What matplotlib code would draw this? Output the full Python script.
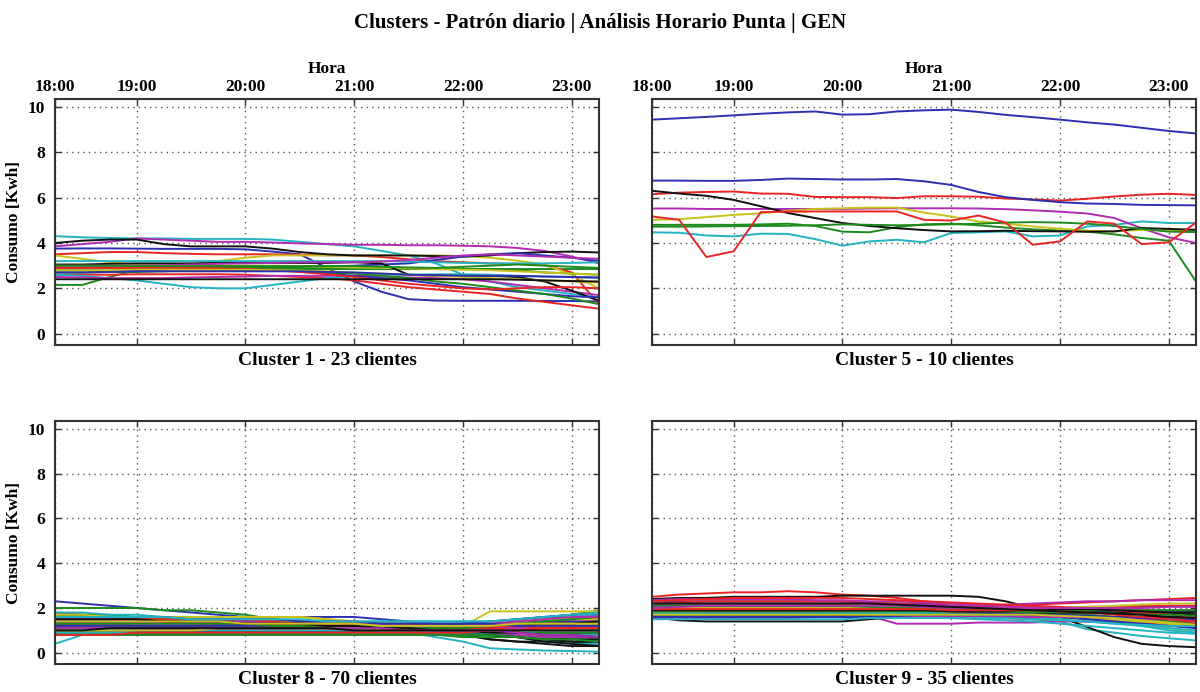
import matplotlib
matplotlib.use('Agg')
import matplotlib.pyplot as plt

# 15-min steps from the left edge (labelled 18:00) to 23:15
N_POINTS = 21
TICK_POS = [0, 3, 7, 11, 15, 19]
TICK_LABELS = ['18:00', '19:00', '20:00', '21:00', '22:00', '23:00']
Y_TICKS = [0, 2, 4, 6, 8, 10]

TITLE = 'Clusters - Patrón diario | Análisis Horario Punta | GEN'
PANEL_TITLES = ['Cluster 1 - 23 clientes', 'Cluster 5 - 10 clientes',
                'Cluster 8 - 70 clientes', 'Cluster 9 - 35 clientes']

# classic b g r c m y k cycle
CYCLE = ['#2e2eb0', '#1d8a1d', '#e82424', '#22b4c0', '#b02cb0', '#c9c21e', '#111111']

cluster1 = [
    [3.75, 3.76, 3.76, 3.75, 3.74, 3.74, 3.74, 3.72, 3.62, 3.50, 2.90, 2.30, 1.85, 1.52, 1.46, 1.45, 1.45, 1.45, 1.44, 1.44, 1.42],
    [2.15, 2.15, 2.50, 2.80, 2.82, 2.85, 2.85, 2.85, 2.85, 2.85, 2.85, 2.85, 2.85, 2.85, 2.85, 2.85, 2.85, 2.85, 2.85, 2.85, 2.85],
    [3.50, 3.55, 3.60, 3.60, 3.55, 3.52, 3.50, 3.50, 3.50, 3.48, 3.46, 3.45, 3.38, 3.28, 3.20, 3.15, 3.10, 3.08, 3.02, 2.70, 1.30],
    [4.30, 4.25, 4.22, 4.20, 4.20, 4.18, 4.18, 4.18, 4.15, 4.05, 3.95, 3.85, 3.65, 3.45, 3.10, 2.60, 2.30, 2.05, 1.90, 1.75, 1.60],
    [3.85, 3.95, 4.05, 4.20, 4.15, 4.10, 4.05, 4.05, 4.02, 3.98, 3.95, 3.92, 3.92, 3.90, 3.90, 3.88, 3.85, 3.78, 3.65, 3.40, 3.10],
    [3.45, 3.30, 3.15, 3.05, 3.00, 3.05, 3.20, 3.35, 3.45, 3.45, 3.45, 3.45, 3.45, 3.45, 3.45, 3.42, 3.35, 3.22, 3.05, 2.60, 2.00],
    [4.00, 4.10, 4.15, 4.15, 3.95, 3.85, 3.85, 3.85, 3.75, 3.60, 3.50, 3.45, 3.45, 3.45, 3.42, 3.40, 3.45, 3.55, 3.60, 3.62, 3.58],
    [2.95, 2.95, 2.95, 2.95, 2.95, 2.95, 2.95, 2.95, 2.95, 2.95, 2.95, 3.00, 3.05, 3.10, 3.25, 3.40, 3.50, 3.55, 3.45, 3.35, 3.20],
    [2.90, 2.90, 2.90, 2.90, 2.92, 2.92, 2.92, 2.92, 2.92, 2.92, 2.92, 2.92, 2.90, 2.88, 2.85, 2.85, 2.85, 2.80, 2.70, 2.65, 2.60],
    [2.60, 2.60, 2.60, 2.62, 2.62, 2.62, 2.62, 2.60, 2.55, 2.50, 2.45, 2.35, 2.20, 2.05, 1.95, 1.85, 1.75, 1.55, 1.40, 1.25, 1.10],
    [2.60, 2.55, 2.45, 2.35, 2.20, 2.05, 2.00, 2.00, 2.15, 2.30, 2.45, 2.55, 2.60, 2.60, 2.62, 2.62, 2.60, 2.55, 2.52, 2.50, 2.45],
    [2.50, 2.48, 2.45, 2.45, 2.45, 2.48, 2.50, 2.52, 2.55, 2.55, 2.55, 2.55, 2.52, 2.48, 2.45, 2.40, 2.30, 2.15, 2.00, 1.85, 1.70],
    [3.00, 3.00, 3.00, 3.00, 3.00, 3.00, 3.00, 3.00, 3.00, 2.98, 2.95, 2.92, 2.90, 2.88, 2.85, 2.82, 2.80, 2.75, 2.70, 2.65, 2.60],
    [3.05, 3.05, 3.08, 3.10, 3.10, 3.10, 3.12, 3.12, 3.12, 3.12, 3.12, 3.15, 3.10, 2.60, 2.55, 2.55, 2.55, 2.50, 2.30, 1.90, 1.45],
    [2.80, 2.80, 2.78, 2.80, 2.80, 2.80, 2.80, 2.80, 2.80, 2.75, 2.65, 2.55, 2.45, 2.35, 2.20, 2.05, 1.95, 1.85, 1.75, 1.65, 1.60],
    [2.70, 2.70, 2.72, 2.72, 2.75, 2.80, 2.80, 2.80, 2.80, 2.75, 2.70, 2.65, 2.55, 2.45, 2.30, 2.20, 2.05, 1.90, 1.75, 1.55, 1.30],
    [2.90, 2.90, 2.90, 2.90, 2.90, 2.90, 2.88, 2.85, 2.80, 2.72, 2.62, 2.50, 2.35, 2.20, 2.10, 2.00, 1.95, 2.00, 2.05, 2.05, 2.00],
    [3.20, 3.20, 3.20, 3.20, 3.20, 3.20, 3.20, 3.20, 3.20, 3.20, 3.20, 3.20, 3.20, 3.18, 3.15, 3.12, 3.10, 3.10, 3.10, 3.12, 3.15],
    [3.00, 3.00, 3.00, 3.00, 3.02, 3.05, 3.08, 3.10, 3.12, 3.15, 3.15, 3.15, 3.18, 3.25, 3.35, 3.45, 3.50, 3.45, 3.40, 3.35, 3.30],
    [2.80, 2.80, 2.80, 2.82, 2.82, 2.82, 2.82, 2.82, 2.80, 2.78, 2.75, 2.70, 2.65, 2.60, 2.55, 2.50, 2.45, 2.40, 2.35, 2.30, 2.25],
    [2.40, 2.40, 2.40, 2.40, 2.40, 2.40, 2.40, 2.40, 2.40, 2.40, 2.40, 2.40, 2.40, 2.40, 2.40, 2.40, 2.40, 2.38, 2.35, 2.32, 2.30],
    [2.70, 2.70, 2.72, 2.75, 2.75, 2.75, 2.75, 2.75, 2.75, 2.75, 2.72, 2.70, 2.65, 2.60, 2.58, 2.55, 2.55, 2.55, 2.52, 2.50, 2.48],
    [3.00, 3.00, 3.00, 2.98, 2.98, 2.98, 2.98, 2.98, 2.98, 2.98, 2.98, 2.98, 2.95, 2.92, 2.90, 2.95, 3.00, 3.05, 3.00, 2.95, 2.90],
]

cluster5 = [
    [9.44, 9.50, 9.56, 9.63, 9.70, 9.76, 9.80, 9.66, 9.68, 9.80, 9.85, 9.88, 9.78, 9.65, 9.55, 9.44, 9.32, 9.22, 9.08, 8.94, 8.83],
    [4.80, 4.80, 4.80, 4.80, 4.82, 4.85, 4.75, 4.50, 4.47, 4.70, 4.82, 4.85, 4.78, 4.68, 4.60, 4.55, 4.50, 4.38, 4.22, 4.10, 2.30],
    [6.15, 6.22, 6.25, 6.27, 6.18, 6.17, 6.03, 6.02, 6.02, 5.98, 6.06, 6.06, 6.04, 5.96, 5.92, 5.87, 5.95, 6.05, 6.13, 6.17, 6.12],
    [4.47, 4.45, 4.33, 4.29, 4.41, 4.40, 4.17, 3.88, 4.07, 4.14, 4.03, 4.44, 4.47, 4.51, 4.29, 4.33, 4.73, 4.80, 4.95, 4.88, 4.88],
    [5.52, 5.52, 5.50, 5.50, 5.50, 5.50, 5.50, 5.50, 5.52, 5.53, 5.53, 5.53, 5.52, 5.49, 5.44, 5.38, 5.30, 5.10, 4.65, 4.25, 4.00],
    [5.02, 5.05, 5.14, 5.24, 5.31, 5.42, 5.50, 5.53, 5.56, 5.56, 5.34, 5.17, 4.95, 4.85, 4.73, 4.63, 4.54, 4.51, 4.58, 4.55, 4.54],
    [6.30, 6.18, 6.08, 5.90, 5.62, 5.32, 5.10, 4.88, 4.75, 4.65, 4.57, 4.51, 4.52, 4.54, 4.52, 4.51, 4.50, 4.51, 4.66, 4.62, 4.58],
    [6.75, 6.75, 6.74, 6.74, 6.78, 6.84, 6.82, 6.80, 6.80, 6.82, 6.72, 6.56, 6.25, 6.02, 5.90, 5.80, 5.74, 5.72, 5.68, 5.67, 5.66],
    [4.72, 4.72, 4.73, 4.74, 4.75, 4.76, 4.78, 4.82, 4.80, 4.78, 4.80, 4.82, 4.85, 4.90, 4.92, 4.90, 4.85, 4.75, 4.62, 4.50, 4.48],
    [5.17, 5.02, 3.38, 3.63, 5.36, 5.38, 5.39, 5.39, 5.39, 5.39, 5.02, 4.99, 5.21, 4.90, 3.92, 4.07, 4.95, 4.85, 3.95, 4.03, 4.90],
]

cluster8 = [
    [2.3, 2.2, 2.1, 2.0, 1.9, 1.8, 1.7, 1.6, 1.6, 1.6, 1.6, 1.6, 1.5, 1.4, 1.3, 1.3, 1.3, 1.4, 1.4, 1.5, 1.5],
    [2.0, 2.0, 2.0, 2.0, 1.9, 1.9, 1.8, 1.7, 1.5, 1.4, 1.3, 1.2, 1.1, 1.0, 0.9, 0.9, 1.1, 1.3, 1.5, 1.7, 1.9],
    [1.8, 1.7, 1.6, 1.6, 1.6, 1.5, 1.5, 1.5, 1.4, 1.4, 1.4, 1.3, 1.2, 1.1, 1.1, 1.1, 1.2, 1.3, 1.3, 1.4, 1.4],
    [0.4, 0.8, 1.0, 1.1, 1.1, 1.1, 1.1, 1.1, 1.1, 1.1, 1.1, 1.0, 1.0, 1.0, 1.0, 1.0, 1.0, 0.9, 0.9, 0.9, 0.9],
    [1.1, 1.1, 1.1, 1.1, 1.1, 1.1, 1.0, 1.0, 1.0, 1.0, 1.0, 1.0, 1.0, 1.0, 1.0, 1.1, 1.2, 1.3, 1.4, 1.5, 1.6],
    [0.8, 0.8, 0.8, 0.8, 0.8, 0.8, 0.8, 0.8, 0.8, 0.8, 0.8, 0.8, 0.8, 0.8, 0.85, 1.2, 1.85, 1.85, 1.85, 1.85, 1.85],
    [1.6, 1.5, 1.4, 1.3, 1.3, 1.3, 1.2, 1.2, 1.2, 1.1, 1.1, 1.0, 1.0, 0.9, 0.9, 0.8, 0.6, 0.5, 0.4, 0.3, 0.3],
    [1.0, 1.0, 1.0, 1.1, 1.1, 1.1, 1.1, 1.1, 1.1, 1.0, 1.0, 1.0, 1.0, 1.0, 1.0, 1.1, 1.1, 1.2, 1.2, 1.2, 1.2],
    [1.4, 1.4, 1.4, 1.3, 1.3, 1.3, 1.2, 1.2, 1.2, 1.1, 1.1, 1.0, 1.0, 0.9, 0.9, 0.9, 0.8, 0.8, 0.7, 0.7, 0.7],
    [1.2, 1.2, 1.2, 1.2, 1.2, 1.2, 1.2, 1.2, 1.2, 1.2, 1.1, 1.1, 1.1, 1.1, 1.1, 1.2, 1.2, 1.2, 1.3, 1.3, 1.3],
    [1.5, 1.5, 1.5, 1.5, 1.4, 1.4, 1.3, 1.3, 1.2, 1.2, 1.1, 1.1, 1.0, 0.9, 0.7, 0.5, 0.2, 0.15, 0.1, 0.08, 0.05],
    [0.9, 0.9, 0.9, 0.9, 0.9, 0.9, 0.9, 0.9, 0.9, 0.9, 0.9, 0.9, 0.9, 0.9, 0.9, 0.9, 0.9, 0.9, 0.9, 0.9, 0.9],
    [1.3, 1.3, 1.4, 1.4, 1.5, 1.5, 1.6, 1.6, 1.6, 1.6, 1.5, 1.4, 1.3, 1.2, 1.1, 1.0, 1.0, 0.9, 0.9, 0.9, 0.9],
    [1.1, 1.1, 1.1, 1.1, 1.1, 1.1, 1.1, 1.1, 1.0, 1.0, 1.0, 1.0, 0.9, 0.9, 0.9, 0.8, 0.6, 0.5, 0.5, 0.5, 0.5],
    [1.7, 1.7, 1.6, 1.6, 1.5, 1.5, 1.5, 1.4, 1.4, 1.4, 1.3, 1.3, 1.2, 1.2, 1.2, 1.2, 1.2, 1.3, 1.4, 1.5, 1.6],
    [1.0, 1.0, 1.0, 1.0, 1.0, 1.0, 1.0, 1.0, 1.0, 1.0, 1.0, 0.9, 0.9, 0.9, 0.8, 0.8, 0.8, 0.8, 0.8, 0.8, 0.8],
    [0.9, 0.9, 0.9, 0.9, 0.9, 1.0, 1.0, 1.0, 1.0, 1.0, 1.0, 1.0, 1.0, 1.0, 1.0, 1.1, 1.1, 1.1, 1.0, 1.0, 1.0],
    [1.3, 1.3, 1.3, 1.3, 1.3, 1.3, 1.4, 1.4, 1.4, 1.4, 1.4, 1.4, 1.4, 1.4, 1.4, 1.4, 1.4, 1.5, 1.6, 1.7, 1.8],
    [1.4, 1.4, 1.4, 1.4, 1.3, 1.3, 1.3, 1.3, 1.2, 1.2, 1.2, 1.2, 1.1, 1.1, 1.1, 1.1, 1.1, 1.1, 1.1, 1.0, 1.0],
    [1.0, 1.0, 1.0, 1.0, 1.0, 1.0, 1.0, 1.0, 1.0, 1.0, 1.0, 1.0, 1.0, 1.0, 1.0, 1.0, 1.0, 0.9, 0.8, 0.7, 0.6],
    [0.9, 0.9, 1.0, 1.0, 1.0, 1.0, 1.0, 1.0, 1.0, 1.0, 1.0, 1.0, 1.0, 1.0, 1.0, 1.0, 1.1, 1.1, 1.2, 1.2, 1.3],
    [1.3, 1.3, 1.3, 1.3, 1.3, 1.3, 1.3, 1.3, 1.3, 1.3, 1.3, 1.2, 1.2, 1.2, 1.1, 1.1, 1.0, 1.0, 1.0, 1.0, 1.0],
    [1.7, 1.7, 1.7, 1.6, 1.6, 1.6, 1.5, 1.5, 1.4, 1.3, 1.2, 1.1, 1.0, 0.9, 0.8, 0.7, 0.7, 0.7, 0.6, 0.6, 0.6],
    [1.4, 1.4, 1.4, 1.4, 1.4, 1.4, 1.4, 1.4, 1.3, 1.3, 1.3, 1.2, 1.2, 1.2, 1.2, 1.2, 1.3, 1.3, 1.3, 1.3, 1.3],
    [1.1, 1.1, 1.1, 1.1, 1.1, 1.1, 1.1, 1.1, 1.1, 1.1, 1.1, 1.1, 1.1, 1.1, 1.1, 1.0, 0.9, 0.8, 0.7, 0.6, 0.6],
    [1.2, 1.2, 1.2, 1.2, 1.2, 1.2, 1.2, 1.1, 1.1, 1.1, 1.1, 1.1, 1.1, 1.1, 1.1, 1.1, 1.2, 1.2, 1.2, 1.2, 1.2],
    [1.1, 1.1, 1.1, 1.2, 1.2, 1.2, 1.2, 1.2, 1.2, 1.2, 1.2, 1.2, 1.1, 1.1, 1.1, 1.1, 1.1, 1.1, 1.1, 1.1, 1.1],
    [1.3, 1.3, 1.3, 1.2, 1.2, 1.2, 1.2, 1.1, 1.1, 1.1, 1.1, 1.0, 1.0, 1.0, 1.0, 1.0, 0.9, 0.8, 0.7, 0.6, 0.6],
    [0.9, 0.9, 0.9, 0.9, 0.9, 0.9, 0.9, 0.9, 0.9, 0.9, 0.9, 0.9, 0.9, 0.9, 0.9, 0.9, 0.9, 0.9, 0.9, 0.8, 0.8],
    [1.2, 1.2, 1.2, 1.2, 1.2, 1.2, 1.2, 1.1, 1.1, 1.1, 1.1, 1.1, 1.1, 1.0, 1.0, 1.0, 1.0, 1.0, 1.0, 1.0, 1.0],
    [1.6, 1.6, 1.6, 1.5, 1.5, 1.5, 1.4, 1.4, 1.4, 1.3, 1.3, 1.3, 1.2, 1.2, 1.2, 1.1, 1.1, 1.0, 1.0, 1.0, 1.0],
    [1.8, 1.8, 1.7, 1.7, 1.6, 1.6, 1.6, 1.5, 1.5, 1.4, 1.4, 1.3, 1.2, 1.1, 1.0, 0.9, 0.8, 0.7, 0.7, 0.7, 0.7],
    [1.0, 1.0, 1.0, 1.0, 1.0, 1.0, 1.0, 1.0, 1.0, 1.0, 1.0, 1.0, 1.0, 1.0, 1.0, 1.0, 1.0, 1.0, 1.1, 1.1, 1.1],
    [0.9, 0.9, 0.9, 0.9, 0.9, 0.9, 0.9, 0.9, 0.9, 0.9, 0.9, 0.9, 0.9, 0.9, 0.9, 0.9, 0.9, 0.8, 0.8, 0.8, 0.8],
    [1.0, 1.0, 1.0, 1.0, 1.0, 1.0, 1.0, 1.0, 1.0, 1.0, 0.9, 0.9, 0.9, 0.9, 0.9, 0.9, 0.8, 0.7, 0.6, 0.5, 0.4],
    [1.5, 1.5, 1.5, 1.5, 1.4, 1.4, 1.4, 1.3, 1.3, 1.3, 1.3, 1.2, 1.2, 1.2, 1.2, 1.3, 1.3, 1.3, 1.4, 1.4, 1.4],
    [0.9, 0.9, 0.9, 0.9, 0.9, 0.9, 0.9, 0.9, 0.9, 0.9, 0.9, 0.9, 0.9, 0.9, 0.9, 0.9, 0.9, 1.0, 1.0, 1.0, 1.0],
    [1.0, 1.0, 1.0, 1.0, 1.0, 1.0, 1.0, 1.0, 1.0, 1.0, 1.0, 1.0, 1.0, 1.0, 1.0, 1.0, 0.9, 0.9, 0.9, 0.8, 0.8],
    [1.2, 1.2, 1.2, 1.2, 1.2, 1.2, 1.2, 1.2, 1.2, 1.2, 1.2, 1.2, 1.3, 1.3, 1.3, 1.3, 1.3, 1.3, 1.3, 1.3, 1.3],
    [1.6, 1.6, 1.5, 1.5, 1.5, 1.5, 1.4, 1.4, 1.4, 1.4, 1.3, 1.3, 1.3, 1.3, 1.3, 1.3, 1.3, 1.3, 1.3, 1.2, 1.2],
    [1.5, 1.5, 1.5, 1.5, 1.5, 1.5, 1.4, 1.4, 1.4, 1.4, 1.4, 1.3, 1.3, 1.2, 1.2, 1.1, 1.1, 1.1, 1.0, 1.0, 1.0],
    [1.2, 1.2, 1.2, 1.2, 1.2, 1.2, 1.2, 1.2, 1.2, 1.2, 1.2, 1.2, 1.2, 1.2, 1.2, 1.2, 1.1, 1.1, 1.1, 1.1, 1.1],
    [1.1, 1.1, 1.1, 1.1, 1.1, 1.1, 1.1, 1.1, 1.1, 1.1, 1.1, 1.1, 1.1, 1.1, 1.1, 1.1, 1.1, 1.0, 1.0, 0.9, 0.9],
    [1.5, 1.5, 1.5, 1.5, 1.5, 1.4, 1.4, 1.4, 1.3, 1.3, 1.3, 1.2, 1.2, 1.2, 1.2, 1.2, 1.2, 1.2, 1.2, 1.2, 1.2],
    [1.1, 1.1, 1.1, 1.1, 1.1, 1.1, 1.1, 1.1, 1.1, 1.1, 1.1, 1.0, 1.0, 1.0, 1.0, 1.0, 1.0, 1.0, 1.0, 1.1, 1.1],
    [1.4, 1.4, 1.4, 1.3, 1.3, 1.3, 1.3, 1.3, 1.2, 1.2, 1.2, 1.2, 1.1, 1.1, 1.1, 1.0, 1.0, 0.9, 0.9, 0.8, 0.8],
    [0.8, 0.8, 0.8, 0.8, 0.8, 0.8, 0.8, 0.8, 0.8, 0.8, 0.8, 0.8, 0.8, 0.8, 0.8, 0.8, 0.8, 0.8, 0.7, 0.7, 0.7],
    [1.2, 1.2, 1.2, 1.2, 1.2, 1.2, 1.2, 1.2, 1.2, 1.1, 1.1, 1.1, 1.1, 1.1, 1.1, 1.2, 1.3, 1.4, 1.5, 1.5, 1.5],
    [1.4, 1.4, 1.4, 1.4, 1.4, 1.3, 1.3, 1.3, 1.3, 1.2, 1.2, 1.2, 1.1, 1.1, 1.1, 1.1, 1.2, 1.2, 1.3, 1.3, 1.4],
    [1.2, 1.2, 1.2, 1.2, 1.2, 1.2, 1.2, 1.2, 1.2, 1.2, 1.2, 1.2, 1.2, 1.2, 1.2, 1.3, 1.4, 1.5, 1.6, 1.7, 1.7],
    [1.1, 1.1, 1.1, 1.1, 1.1, 1.1, 1.1, 1.1, 1.1, 1.1, 1.1, 1.1, 1.0, 1.0, 1.0, 1.0, 1.0, 1.0, 0.9, 0.9, 0.9],
    [1.3, 1.3, 1.3, 1.3, 1.3, 1.3, 1.3, 1.3, 1.3, 1.2, 1.2, 1.2, 1.2, 1.1, 1.1, 1.1, 1.1, 1.1, 1.2, 1.2, 1.2],
    [1.0, 1.0, 1.0, 1.0, 1.0, 1.0, 1.0, 1.0, 1.0, 1.0, 1.0, 1.0, 1.0, 1.0, 1.0, 0.9, 0.8, 0.7, 0.5, 0.4, 0.4],
    [1.3, 1.3, 1.3, 1.3, 1.3, 1.3, 1.3, 1.3, 1.3, 1.2, 1.2, 1.2, 1.2, 1.2, 1.2, 1.2, 1.2, 1.1, 1.1, 1.1, 1.1],
    [1.7, 1.7, 1.6, 1.6, 1.6, 1.6, 1.6, 1.6, 1.6, 1.6, 1.5, 1.4, 1.3, 1.2, 1.2, 1.2, 1.2, 1.2, 1.2, 1.2, 1.2],
    [0.8, 0.8, 0.8, 0.9, 0.9, 0.9, 0.9, 0.9, 0.9, 0.9, 0.9, 0.9, 0.9, 0.9, 0.9, 0.9, 0.8, 0.7, 0.5, 0.4, 0.3],
    [1.4, 1.4, 1.4, 1.4, 1.4, 1.4, 1.3, 1.3, 1.3, 1.3, 1.2, 1.2, 1.2, 1.1, 1.1, 1.0, 1.0, 1.0, 1.0, 1.0, 1.0],
    [1.3, 1.3, 1.3, 1.3, 1.3, 1.3, 1.3, 1.3, 1.2, 1.2, 1.2, 1.2, 1.2, 1.1, 1.1, 1.1, 1.2, 1.3, 1.4, 1.5, 1.6],
    [1.5, 1.5, 1.5, 1.5, 1.5, 1.4, 1.4, 1.4, 1.4, 1.3, 1.3, 1.3, 1.3, 1.3, 1.2, 1.2, 1.2, 1.2, 1.1, 1.1, 1.1],
    [0.9, 0.9, 0.9, 0.9, 0.9, 0.9, 0.9, 0.9, 0.9, 0.9, 0.9, 0.9, 0.9, 0.9, 0.9, 0.9, 0.9, 0.9, 1.0, 1.0, 1.0],
    [1.5, 1.5, 1.5, 1.4, 1.4, 1.4, 1.4, 1.4, 1.3, 1.3, 1.3, 1.3, 1.3, 1.2, 1.2, 1.2, 1.3, 1.4, 1.5, 1.6, 1.6],
    [1.0, 1.0, 1.0, 1.0, 1.0, 1.0, 1.1, 1.1, 1.1, 1.1, 1.1, 1.1, 1.0, 1.0, 1.0, 1.0, 1.0, 1.0, 1.0, 1.0, 1.0],
    [1.5, 1.5, 1.5, 1.5, 1.4, 1.4, 1.4, 1.3, 1.3, 1.3, 1.2, 1.2, 1.1, 1.1, 1.0, 1.0, 0.9, 0.9, 0.8, 0.8, 0.7],
    [1.6, 1.6, 1.6, 1.6, 1.6, 1.5, 1.5, 1.5, 1.5, 1.4, 1.4, 1.4, 1.3, 1.3, 1.3, 1.3, 1.3, 1.2, 1.2, 1.2, 1.2],
    [0.8, 0.8, 0.8, 0.8, 0.8, 0.8, 0.8, 0.8, 0.8, 0.8, 0.8, 0.8, 0.8, 0.8, 0.8, 0.8, 0.8, 0.7, 0.6, 0.6, 0.5],
    [0.8, 0.8, 0.8, 0.9, 0.9, 0.9, 0.9, 0.9, 0.9, 0.9, 0.9, 0.9, 0.9, 0.9, 0.9, 0.9, 1.0, 1.0, 1.1, 1.1, 1.1],
    [1.6, 1.6, 1.6, 1.6, 1.6, 1.5, 1.5, 1.5, 1.5, 1.5, 1.4, 1.4, 1.4, 1.4, 1.4, 1.4, 1.4, 1.5, 1.6, 1.7, 1.75],
    [1.1, 1.1, 1.1, 1.1, 1.1, 1.1, 1.1, 1.1, 1.1, 1.1, 1.1, 1.1, 1.1, 1.0, 1.0, 1.0, 1.0, 0.9, 0.8, 0.8, 0.7],
    [1.4, 1.4, 1.4, 1.4, 1.4, 1.4, 1.4, 1.3, 1.3, 1.3, 1.3, 1.3, 1.2, 1.2, 1.2, 1.2, 1.2, 1.3, 1.3, 1.3, 1.3],
    [1.0, 1.0, 1.1, 1.1, 1.1, 1.1, 1.1, 1.1, 1.1, 1.1, 1.1, 1.0, 1.0, 1.0, 1.0, 1.0, 1.0, 1.0, 1.0, 1.0, 1.0],
]

cluster9 = [
    [2.3, 2.3, 2.3, 2.3, 2.3, 2.3, 2.3, 2.3, 2.2, 2.2, 2.2, 2.1, 2.1, 2.0, 2.0, 1.9, 1.9, 1.8, 1.8, 1.8, 1.8],
    [1.5, 1.7, 1.8, 1.8, 1.8, 1.8, 1.8, 1.8, 1.8, 1.8, 1.8, 1.8, 1.8, 1.8, 1.7, 1.7, 1.7, 1.6, 1.6, 1.6, 1.6],
    [2.5, 2.6, 2.65, 2.7, 2.7, 2.75, 2.7, 2.6, 2.55, 2.45, 2.3, 2.2, 2.15, 2.1, 2.15, 2.2, 2.25, 2.3, 2.35, 2.4, 2.45],
    [1.9, 1.9, 1.9, 1.9, 1.9, 1.9, 1.85, 1.85, 1.8, 1.8, 1.8, 1.75, 1.7, 1.65, 1.5, 1.4, 1.05, 0.9, 0.75, 0.65, 0.55],
    [1.8, 1.8, 1.8, 1.8, 1.8, 1.8, 1.75, 1.7, 1.65, 1.3, 1.3, 1.3, 1.35, 1.35, 1.35, 1.4, 1.4, 1.4, 1.4, 1.4, 1.4],
    [2.1, 2.2, 2.2, 2.2, 2.2, 2.2, 2.2, 2.15, 2.1, 2.05, 2.0, 2.0, 1.95, 1.9, 1.8, 1.7, 1.6, 1.5, 1.3, 1.1, 0.9],
    [2.4, 2.45, 2.45, 2.5, 2.5, 2.5, 2.5, 2.55, 2.55, 2.55, 2.55, 2.55, 2.5, 2.3, 2.0, 1.6, 1.15, 0.7, 0.4, 0.3, 0.25],
    [2.0, 2.0, 2.0, 2.0, 2.0, 2.0, 2.0, 2.0, 2.0, 2.0, 1.95, 1.9, 1.9, 1.9, 1.9, 1.95, 2.0, 2.05, 2.05, 2.1, 2.1],
    [1.7, 1.7, 1.7, 1.7, 1.7, 1.7, 1.7, 1.7, 1.75, 1.75, 1.75, 1.75, 1.7, 1.7, 1.7, 1.65, 1.6, 1.5, 1.4, 1.3, 1.2],
    [2.2, 2.25, 2.3, 2.3, 2.3, 2.3, 2.3, 2.3, 2.25, 2.2, 2.15, 2.1, 2.05, 2.0, 2.0, 2.0, 2.05, 2.05, 2.1, 2.1, 2.1],
    [1.65, 1.65, 1.65, 1.65, 1.65, 1.65, 1.65, 1.65, 1.65, 1.6, 1.6, 1.55, 1.5, 1.45, 1.4, 1.3, 1.2, 1.1, 1.0, 0.9, 0.85],
    [2.2, 2.2, 2.2, 2.2, 2.2, 2.2, 2.2, 2.2, 2.2, 2.15, 2.15, 2.1, 2.1, 2.15, 2.2, 2.25, 2.3, 2.3, 2.35, 2.35, 2.35],
    [1.8, 1.8, 1.85, 1.85, 1.85, 1.85, 1.85, 1.85, 1.85, 1.85, 1.85, 1.8, 1.8, 1.75, 1.7, 1.6, 1.5, 1.45, 1.4, 1.3, 1.2],
    [1.6, 1.45, 1.4, 1.4, 1.4, 1.4, 1.4, 1.4, 1.5, 1.6, 1.6, 1.6, 1.6, 1.6, 1.6, 1.6, 1.6, 1.6, 1.6, 1.6, 1.6],
    [1.75, 1.75, 1.75, 1.75, 1.75, 1.75, 1.75, 1.75, 1.75, 1.7, 1.7, 1.7, 1.7, 1.7, 1.75, 1.8, 1.8, 1.8, 1.8, 1.85, 1.85],
    [1.9, 1.95, 2.0, 2.0, 2.0, 2.0, 2.0, 2.0, 2.0, 1.95, 1.95, 1.9, 1.9, 1.85, 1.8, 1.75, 1.7, 1.6, 1.5, 1.4, 1.3],
    [1.6, 1.6, 1.6, 1.6, 1.6, 1.6, 1.6, 1.65, 1.65, 1.65, 1.65, 1.65, 1.6, 1.55, 1.5, 1.45, 1.4, 1.35, 1.3, 1.3, 1.3],
    [2.0, 2.0, 2.0, 2.0, 2.0, 2.0, 2.0, 1.95, 1.9, 1.85, 1.8, 1.75, 1.75, 1.7, 1.65, 1.6, 1.5, 1.4, 1.2, 1.0, 0.9],
    [2.35, 2.4, 2.4, 2.4, 2.4, 2.4, 2.35, 2.35, 2.3, 2.3, 2.25, 2.2, 2.15, 2.1, 2.05, 2.0, 1.95, 1.95, 1.9, 1.9, 1.9],
    [1.6, 1.6, 1.6, 1.6, 1.6, 1.6, 1.6, 1.6, 1.6, 1.6, 1.65, 1.65, 1.7, 1.7, 1.7, 1.7, 1.6, 1.5, 1.4, 1.3, 1.15],
    [1.7, 1.7, 1.7, 1.7, 1.7, 1.7, 1.7, 1.7, 1.7, 1.7, 1.7, 1.7, 1.7, 1.7, 1.7, 1.75, 1.8, 1.8, 1.8, 1.8, 1.8],
    [2.1, 2.1, 2.1, 2.1, 2.1, 2.1, 2.1, 2.05, 2.0, 1.95, 1.9, 1.85, 1.8, 1.75, 1.7, 1.6, 1.5, 1.4, 1.3, 1.2, 1.1],
    [1.85, 1.85, 1.85, 1.85, 1.85, 1.85, 1.85, 1.85, 1.85, 1.85, 1.85, 1.85, 1.85, 1.85, 1.85, 1.85, 1.9, 1.9, 1.9, 1.9, 1.9],
    [2.3, 2.35, 2.4, 2.45, 2.45, 2.45, 2.45, 2.45, 2.4, 2.35, 2.3, 2.25, 2.2, 2.15, 2.1, 2.05, 2.0, 1.9, 1.8, 1.7, 1.6],
    [1.75, 1.75, 1.75, 1.75, 1.75, 1.75, 1.75, 1.75, 1.75, 1.75, 1.75, 1.7, 1.7, 1.65, 1.6, 1.5, 1.4, 1.3, 1.25, 1.2, 1.2],
    [1.55, 1.55, 1.55, 1.55, 1.55, 1.55, 1.6, 1.6, 1.6, 1.6, 1.6, 1.6, 1.6, 1.6, 1.6, 1.6, 1.6, 1.55, 1.5, 1.5, 1.45],
    [2.0, 2.0, 2.0, 2.0, 2.0, 2.0, 2.0, 2.0, 2.0, 2.0, 2.0, 2.0, 2.0, 2.0, 2.0, 2.0, 2.05, 2.1, 2.15, 2.2, 2.2],
    [1.9, 1.9, 1.9, 1.9, 1.9, 1.9, 1.9, 1.9, 1.9, 1.9, 1.9, 1.85, 1.85, 1.85, 1.9, 1.95, 1.95, 1.9, 1.85, 1.8, 1.7],
    [1.6, 1.6, 1.6, 1.6, 1.6, 1.6, 1.6, 1.6, 1.6, 1.65, 1.7, 1.7, 1.7, 1.7, 1.7, 1.7, 1.65, 1.6, 1.55, 1.5, 1.5],
    [2.1, 2.1, 2.1, 2.1, 2.1, 2.1, 2.1, 2.1, 2.05, 2.0, 2.0, 1.95, 1.9, 1.9, 1.85, 1.8, 1.8, 1.75, 1.7, 1.7, 1.65],
    [1.95, 1.95, 1.95, 1.95, 1.95, 1.95, 1.95, 1.95, 1.95, 1.95, 1.95, 1.9, 1.9, 1.9, 1.9, 1.85, 1.8, 1.7, 1.6, 1.5, 1.4],
    [1.5, 1.5, 1.5, 1.5, 1.5, 1.5, 1.5, 1.5, 1.55, 1.55, 1.55, 1.55, 1.55, 1.55, 1.5, 1.45, 1.4, 1.3, 1.2, 1.1, 1.0],
    [2.0, 2.05, 2.1, 2.1, 2.1, 2.1, 2.1, 2.1, 2.1, 2.1, 2.05, 2.0, 2.0, 2.0, 2.0, 2.0, 2.0, 2.0, 2.0, 2.05, 2.05],
    [1.7, 1.7, 1.7, 1.7, 1.7, 1.7, 1.7, 1.7, 1.7, 1.7, 1.7, 1.7, 1.7, 1.7, 1.7, 1.65, 1.6, 1.55, 1.45, 1.35, 1.25],
    [2.2, 2.2, 2.2, 2.2, 2.2, 2.2, 2.2, 2.2, 2.2, 2.15, 2.1, 2.05, 2.0, 1.95, 1.9, 1.85, 1.8, 1.75, 1.7, 1.6, 1.55],
]

CLUSTERS = [cluster1, cluster5, cluster8, cluster9]

plt.rcParams['font.family'] = 'Liberation Serif'
plt.rcParams['font.weight'] = 'bold'

fig = plt.figure(figsize=(12, 6.92), dpi=100)
W, H = 1200, 692
boxes = [(55, 99, 599, 345), (652, 99, 1196, 345),
         (55, 421, 599, 664), (652, 421, 1196, 664)]

x = list(range(N_POINTS))
for i, (series, (l, t, r, b)) in enumerate(zip(CLUSTERS, boxes)):
    ax = fig.add_axes([l / W, 1 - b / H, (r - l) / W, (b - t) / H])
    for j, vals in enumerate(series):
        ax.plot(x, vals, color=CYCLE[j % len(CYCLE)], lw=1.4)
    ax.set_xlim(0, N_POINTS - 1)
    ax.set_ylim(-0.5, 10.35)
    ax.set_xticks(TICK_POS)
    ax.set_yticks(Y_TICKS)
    ax.grid(True, color='#555555', linestyle=(0, (1, 3)), lw=1.0)
    ax.tick_params(direction='in', length=4, width=1, top=True, right=True,
                   labelsize=12.5, pad=7, color='#333333')
    ax.tick_params(axis='x', pad=3)
    for sp in ax.spines.values():
        sp.set_linewidth(1.5)
        sp.set_color('#333333')
    if i < 2:
        ax.xaxis.set_ticks_position('both')
        ax.tick_params(labeltop=True, labelbottom=False)
        ax.set_xticklabels(TICK_LABELS)
        ax.xaxis.set_label_position('top')
        ax.set_xlabel('Hora', fontsize=12.5, fontweight='bold', labelpad=4)
    else:
        ax.tick_params(labeltop=False, labelbottom=False)
    if i % 2 == 0:
        ax.set_ylabel('Consumo [Kwh]', fontsize=12.5, fontweight='bold', labelpad=4)
    else:
        ax.tick_params(labelleft=False)
    ax.text(0.5, -0.03, PANEL_TITLES[i], transform=ax.transAxes,
            ha='center', va='top', fontsize=14, fontweight='bold')

fig.text(0.5, 1 - 23 / H, TITLE, ha='center', va='center',
         fontsize=15, fontweight='bold')

fig.savefig('out.png', dpi=100)
